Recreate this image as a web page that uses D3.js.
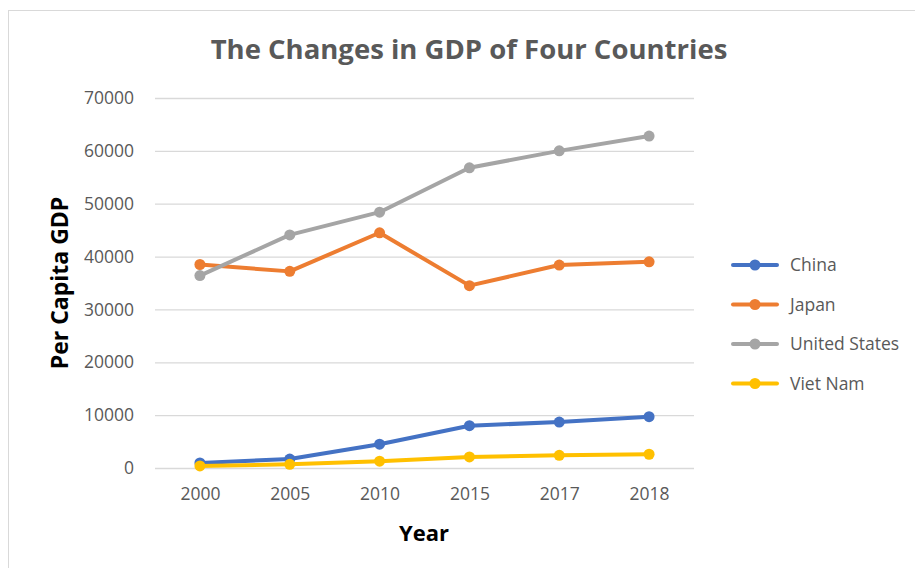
<!DOCTYPE html>
<html>
<head>
<meta charset="utf-8">
<script src="https://cdn.jsdelivr.net/npm/d3@7"></script>
<style>
  body { margin: 0; background: #fff; }
  svg { display: block; }
  text { font-family: "Open Sans", "Noto Sans", sans-serif; }
</style>
</head>
<body>
<div id="chart"></div>
<script>
// chart data
const years = ["2000", "2005", "2010", "2015", "2017", "2018"];
const countries = ["China", "Japan", "United States", "Viet Nam"];
const china = [950, 1700, 4500, 8000, 8700, 9700];
const japan = [38500, 37200, 44500, 34500, 38400, 39000];
const usa = [36400, 44100, 48400, 56800, 60000, 62800];
const vietnam = [400, 700, 1300, 2100, 2400, 2600];
const yTicks = [0, 10000, 20000, 30000, 40000, 50000, 60000, 70000];
const colors = ["#4472C4", "#ED7D31", "#A5A5A5", "#FFC000"];

const series = [china, japan, usa, vietnam].map((vals, i) => ({
    name: countries[i],
    color: colors[i],
    values: vals.map((v, j) => ({ year: years[j], value: v }))
}));

const width = 915, height = 568;
const plot = { left: 155, right: 694, top: 98, bottom: 468 };

const svg = d3.select("#chart").append("svg")
    .attr("width", width)
    .attr("height", height);

// chart frame
svg.append("rect")
    .attr("x", 8.5).attr("y", 10.5)
    .attr("width", 920).attr("height", 570)
    .attr("fill", "#fff")
    .attr("stroke", "#d9d9d9");

let x = d3.scalePoint()
    .domain(years)
    .range([plot.left, plot.right])
    .padding(0.5);

let y = d3.scaleLinear()
    .domain([0, 70000])
    .range([plot.bottom, plot.top]);

// gridlines + y labels
let yAxis = svg.append("g")
    .attr("transform", "translate(" + plot.left + ",0)")
    .call(d3.axisLeft(y).tickValues(yTicks).tickFormat(d3.format("d"))
        .tickSize(-(plot.right - plot.left)).tickPadding(21));
yAxis.select(".domain").remove();
yAxis.selectAll(".tick line").attr("stroke", "#d9d9d9").attr("stroke-width", 1.3);
yAxis.selectAll(".tick text")
    .attr("fill", "#595959")
    .style("font-size", "17.5px");

// x labels
let xAxis = svg.append("g")
    .attr("transform", "translate(0," + plot.bottom + ")")
    .call(d3.axisBottom(x).tickSize(0).tickPadding(20));
xAxis.select(".domain").remove();
xAxis.selectAll(".tick text")
    .attr("fill", "#595959")
    .style("font-size", "17.5px");

// lines
let line = d3.line()
    .x(d => x(d.year))
    .y(d => y(d.value));

let groups = svg.selectAll(".series")
    .data(series)
    .enter().append("g")
    .attr("class", "series");

groups.append("path")
    .attr("d", d => line(d.values))
    .attr("fill", "none")
    .attr("stroke", d => d.color)
    .attr("stroke-width", 4)
    .attr("stroke-linejoin", "round")
    .attr("stroke-linecap", "round");

groups.selectAll("circle")
    .data(d => d.values.map(v => Object.assign({ color: d.color }, v)))
    .enter().append("circle")
    .attr("cx", d => x(d.year))
    .attr("cy", d => y(d.value))
    .attr("r", 5.5)
    .attr("fill", d => d.color);

// title
svg.append("text")
    .attr("x", 469)
    .attr("y", 59)
    .attr("text-anchor", "middle")
    .attr("fill", "#595959")
    .style("font-size", "27.5px")
    .style("font-weight", "bold")
    .text("The Changes in GDP of Four Countries");

// axis titles
svg.append("text")
    .attr("transform", "translate(68,283) rotate(-90)")
    .attr("text-anchor", "middle")
    .attr("fill", "#000")
    .style("font-size", "23px")
    .style("font-weight", "bold")
    .text("Per Capita GDP");

svg.append("text")
    .attr("x", 424)
    .attr("y", 541)
    .attr("text-anchor", "middle")
    .attr("fill", "#000")
    .style("font-size", "22px")
    .style("font-weight", "bold")
    .text("Year");

// legend
let legend = svg.selectAll(".legend")
    .data(series)
    .enter().append("g")
    .attr("class", "legend")
    .attr("transform", (d, i) => "translate(733," + (265 + i * 39.5) + ")");

legend.append("line")
    .attr("x1", 0).attr("x2", 44)
    .attr("stroke", d => d.color)
    .attr("stroke-width", 4)
    .attr("stroke-linecap", "round");

legend.append("circle")
    .attr("cx", 22).attr("r", 5.5)
    .attr("fill", d => d.color);

legend.append("text")
    .attr("x", 57)
    .attr("dy", "0.35em")
    .attr("fill", "#595959")
    .style("font-size", "17.5px")
    .text(d => d.name);
</script>
</body>
</html>
